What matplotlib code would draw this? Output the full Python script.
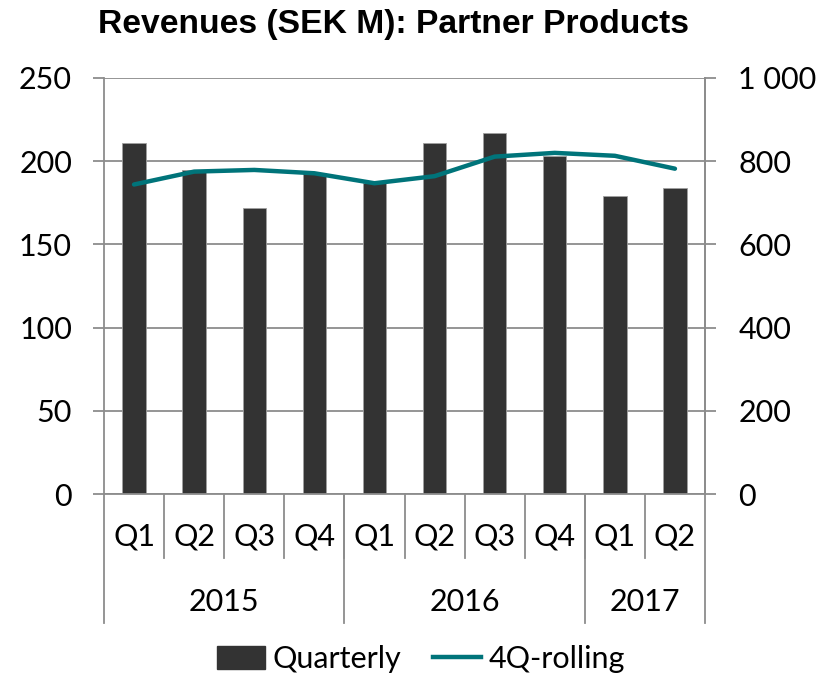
import numpy as np
import matplotlib.pyplot as plt
import matplotlib.transforms as mtransforms

# Chart data
quarters = ["Q1", "Q2", "Q3", "Q4", "Q1", "Q2", "Q3", "Q4", "Q1", "Q2"]
years = ["2015", "2016", "2017"]
year_sizes = [4, 4, 2]
quarterly = [211, 195, 172, 193, 187, 211, 217, 203, 179, 184]
rolling = [744, 775, 779, 771, 747, 764, 811, 820, 813, 782]

left_ticks = [0, 50, 100, 150, 200, 250]
right_ticks = [0, 200, 400, 600, 800, 1000]
right_labels = ["0", "200", "400", "600", "800", "1 000"]

bar_color = "#333333"
line_color = "#00747A"
axis_grey = "#8C8C8C"
font = "Lato"
fs = 22

W, H = 827, 676
fig = plt.figure(figsize=(W / 100, H / 100), dpi=100)
ax = fig.add_axes([104 / W, 1 - 494 / H, (705 - 104) / W, (494 - 78) / H])

x = np.arange(len(quarterly))
ax.bar(x, quarterly, width=0.39, color=bar_color, edgecolor="#A0A0A0", linewidth=0.6, zorder=2)
ax.set_xlim(-0.5, len(quarterly) - 0.5)
ax.set_ylim(0, 250)
ax.set_yticks(left_ticks)
ax.set_yticklabels([str(t) for t in left_ticks], fontsize=fs, family=font)
ax.yaxis.grid(True, color=axis_grey, linewidth=1.3)
ax.set_axisbelow(True)
ax.tick_params(axis="y", length=8, width=1.3, color=axis_grey, pad=15)
ax.set_xticks([])
ax.spines["top"].set_visible(False)
for s in ["left", "right", "bottom"]:
    ax.spines[s].set_color(axis_grey)
    ax.spines[s].set_linewidth(1.3)

ax2 = ax.twinx()
ax2.plot(x, rolling, color=line_color, linewidth=3.2, solid_capstyle="round", solid_joinstyle="round")
ax2.set_ylim(0, 1000)
ax2.set_yticks(right_ticks)
ax2.set_yticklabels(right_labels, fontsize=fs, family=font)
ax2.tick_params(axis="y", length=8, width=1.3, color=axis_grey, pad=16)
for s in ["top", "left", "bottom"]:
    ax2.spines[s].set_visible(False)
ax2.spines["right"].set_color(axis_grey)
ax2.spines["right"].set_linewidth(1.3)

# two-level category axis
trans = mtransforms.blended_transform_factory(ax.transData, ax.transAxes)
q_bottom = (494 - 558) / 416
y_bottom = (494 - 623) / 416
for i, q in enumerate(quarters):
    ax.text(i, (494 - 537) / 416, q, transform=trans, ha="center", va="center",
            fontsize=fs, family=font)
for b in np.arange(0.5, len(quarters) - 0.5):
    ax.plot([b, b], [0, q_bottom], transform=trans, color=axis_grey, lw=1.3, clip_on=False)
start = 0
bounds = [-0.5]
for yr, n in zip(years, year_sizes):
    ax.text(start + (n - 1) / 2, (494 - 602) / 416, yr, transform=trans, ha="center",
            va="center", fontsize=fs, family=font)
    start += n
    bounds.append(start - 0.5)
for b in bounds:
    ax.plot([b, b], [0, y_bottom], transform=trans, color=axis_grey, lw=1.3, clip_on=False)

fig.text(393 / W, 1 - 25 / H, "Revenues (SEK M): Partner Products", ha="center", va="center",
         fontsize=24.2, fontweight="bold", family="Liberation Sans")

h1 = plt.Rectangle((0, 0), 1, 1, color=bar_color)
h2 = plt.Line2D([], [], color=line_color, linewidth=3.2)
fig.legend([h1, h2], ["Quarterly", "4Q-rolling"], loc="center", bbox_to_anchor=(421 / W, 1 - 659 / H),
           ncol=2, frameon=False, prop={"family": font, "size": fs}, handlelength=1.55,
           handleheight=0.75, handletextpad=0.25, columnspacing=1.05, borderpad=0)

fig.savefig("out.png", dpi=100)
